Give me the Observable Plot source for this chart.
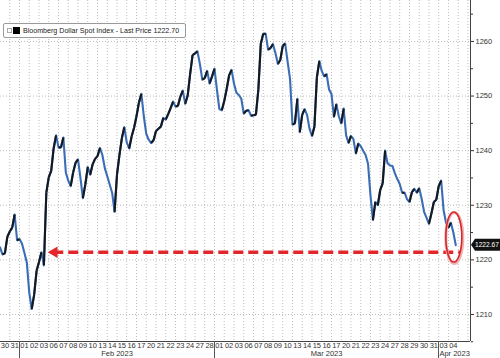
<!DOCTYPE html>
<html><head><meta charset="utf-8">
<script src="https://cdn.jsdelivr.net/npm/d3@7"></script>
<script src="https://cdn.jsdelivr.net/npm/@observablehq/plot@0.6"></script>
<style>
body{margin:0;background:#fff;}
#wrap{position:relative;width:500px;height:358px;overflow:hidden;background:#fff;}
.legend{position:absolute;left:3px;top:23px;height:15px;width:183px;border:1px solid #9a9a9a;border-radius:2px;background:#fff;box-sizing:border-box;display:flex;align-items:center;font-family:"Liberation Sans",Arial,sans-serif;font-size:7.1px;color:#222;white-space:nowrap;}
.legend .s1{flex:0 0 auto;display:inline-block;width:3px;height:3px;border:1px solid #aaa;margin-left:3px;}
.legend .s2{flex:0 0 auto;display:inline-block;width:7px;height:7px;background:#000;margin-left:1px;margin-right:3px;}
</style></head><body><div id="wrap"></div>
<script>
// ---- data ----
const seriesName = "Bloomberg Dollar Spot Index - Last Price 1222.70";
const lastPrice = 1222.67;
const dayLabels = ["30","31",
  "01","02","03","06","07","08","09","10","13","14","15","16","17","20","21","22","23","24","27","28",
  "01","02","03","06","07","08","09","10","13","14","15","16","17","20","21","22","23","24","27","28","29","30","31",
  "03","04"];
const monthLabels = ["Feb 2023","Mar 2023","Apr 2023"];
const monthStarts = [2, 22, 45];
const samplesPerDay = 4;
const values = [
 1222.3,1221.0,1221.2,1224.2,1225.2,1225.9,1228.3,1223.6,1223.8,1223.0,
 1221.3,1219.5,1214.0,1211.0,1213.6,1218.0,1219.6,1221.4,1219.0,1232.3,
 1235.1,1236.3,1240.4,1242.8,1240.6,1240.6,1242.4,1236.0,1234.5,1233.5,
 1236.0,1237.8,1238.4,1235.0,1231.3,1233.8,1237.0,1235.6,1237.5,1238.5,
 1239.0,1240.5,1239.2,1236.8,1235.3,1233.8,1232.3,1228.8,1235.6,1239.2,
 1242.3,1244.3,1241.5,1240.4,1242.6,1244.2,1246.3,1248.8,1250.4,1246.3,
 1243.1,1242.0,1241.4,1241.9,1243.6,1244.0,1244.4,1246.0,1245.7,1246.7,
 1247.8,1249.0,1248.1,1248.2,1249.9,1251.0,1248.6,1250.1,1254.0,1257.5,
 1257.8,1258.2,1255.9,1253.0,1253.3,1254.6,1252.3,1253.6,1255.0,1251.2,
 1247.6,1247.4,1249.1,1251.3,1253.8,1254.8,1252.3,1250.6,1250.2,1249.5,
 1246.8,1247.3,1247.4,1246.4,1246.5,1246.6,1251.2,1259.6,1261.4,1261.4,
 1258.5,1258.8,1259.5,1257.9,1255.9,1256.6,1259.2,1259.6,1256.3,1253.1,
 1244.8,1245.0,1249.5,1243.4,1246.6,1247.6,1246.5,1244.0,1242.7,1244.4,
 1253.4,1256.4,1254.6,1253.6,1254.0,1251.2,1250.4,1246.2,1248.5,1246.3,
 1245.0,1247.7,1242.8,1241.4,1242.7,1242.1,1239.5,1241.3,1240.8,1240.0,
 1239.2,1237.6,1231.8,1227.3,1230.6,1230.0,1232.8,1234.0,1240.0,1237.7,
 1237.3,1237.2,1235.9,1234.8,1233.9,1232.3,1232.3,1231.1,1230.6,1232.4,
 1233.0,1232.3,1233.1,1231.2,1228.8,1227.7,1226.6,1228.5,1230.6,1231.0,
 1233.5,1234.5,1229.1,1226.8,1225.9,1226.8,1225.0,1222.7
];
const yTicks = [1210,1220,1230,1240,1250,1260];
const yMinorTicks = [1205,1215,1225,1235,1245,1255,1265];
// annotation (data units): dashed arrow level and span, circled area
const arrowLevel = 1221.4;
const arrowTipDay = 4.95;
const arrowTailDay = 46.7;
const circleDay = 46.6;
const circleValue = 1224.1;

// ---- derived ----
const points = values.map((v, i) => ({t: i / samplesPerDay, v}));
const ups = [];
for (let i = 1; i < points.length; i++) {
  if (points[i].v >= points[i-1].v) ups.push({t1: points[i-1].t, v1: points[i-1].v, t2: points[i].t, v2: points[i].v});
}
const dayCenters = dayLabels.map((d, i) => ({t: i + 0.5, label: d}));
const monthData = monthLabels.map((m, i) => ({label: m, t: (monthStarts[i] + (i + 1 < monthStarts.length ? monthStarts[i+1] : 48.26)) / 2}));
const xDomain = [0.05, 48.26];
const yDomain = [1205.05, 1267.5];
const FONT = '"Liberation Sans", Arial, sans-serif';

function separators(index, scales, values, dim) {
  const g = d3.create("svg:g");
  for (const s of monthStarts) {
    const x = Math.round(scales.x(s)) + 0.5;
    g.append("line").attr("x1", x).attr("x2", x).attr("y1", dim.height - dim.marginBottom).attr("y2", dim.height)
      .attr("stroke", "#555").attr("stroke-width", 1);
  }
  return g.node();
}
function ellipseMark(index, scales) {
  const g = d3.create("svg:g");
  const cx = scales.x(circleDay), cy = scales.y(circleValue);
  g.append("ellipse").attr("cx", cx + 0.5).attr("cy", cy + 1).attr("rx", 8.5).attr("ry", 25.5)
    .attr("fill", "none").attr("stroke", "#f3b0b0").attr("stroke-width", 3);
  g.append("ellipse").attr("cx", cx).attr("cy", cy).attr("rx", 8).attr("ry", 25)
    .attr("fill", "none").attr("stroke", "#d42a2f").attr("stroke-width", 1.6);
  return g.node();
}
function lastTag(index, scales, values, dim) {
  const g = d3.create("svg:g");
  const y = scales.y(lastPrice);
  const x0 = dim.width - dim.marginRight + 1;
  g.append("path").attr("d", `M${x0},${y} L${x0+4},${y-6} L${dim.width},${y-6} L${dim.width},${y+6} L${x0+4},${y+6} Z`).attr("fill", "#111");
  g.append("text").attr("x", x0 + 4).attr("y", y).attr("dy", "0.35em").attr("fill", "#fff")
    .attr("text-anchor", "start").attr("font-size", 6.6).attr("font-family", FONT).text(lastPrice.toFixed(2));
  return g.node();
}

const chart = Plot.plot({
  width: 500, height: 358,
  marginLeft: 0, marginRight: 30, marginTop: 0, marginBottom: 17,
  x: {domain: xDomain, axis: null},
  y: {domain: yDomain, axis: null},
  style: {fontFamily: FONT, fontSize: "7.5px", color: "#333", background: "#fff", overflow: "visible"},
  marks: [
    Plot.ruleX(d3.range(1, 49), {stroke: "#bdbdbd", strokeDasharray: "1,2"}),
    Plot.ruleY(yTicks, {stroke: "#bdbdbd", strokeDasharray: "1,2"}),
    Plot.line(points, {x: "t", y: "v", stroke: "#3a6db5", strokeWidth: 2.1}),
    Plot.link(ups, {x1: "t1", y1: "v1", x2: "t2", y2: "v2", stroke: "#15191f", strokeWidth: 2.1}),
    Plot.link([{a: arrowTipDay, b: arrowTailDay, y: arrowLevel}], {x1: "a", x2: "b", y1: "y", y2: "y", stroke: "#e3262b", strokeWidth: 3.5, strokeDasharray: "10,5", dx: 5}),
    Plot.dot([{t: arrowTipDay, y: arrowLevel}], {x: "t", y: "y", symbol: "triangle", rotate: -90, r: 4.2, fill: "#e3262b", stroke: "none", dx: 6}),
    ellipseMark,
    Plot.ruleX([xDomain[1]], {stroke: "#444", strokeWidth: 1}),
    Plot.ruleY([yDomain[0]], {stroke: "#444", strokeWidth: 1}),
    Plot.axisY({anchor: "right", ticks: yTicks, tickSize: 3, tickPadding: 2, fontSize: 7.5, stroke: "#333", tickFormat: d => String(d)}),
    Plot.axisY({anchor: "right", ticks: yMinorTicks, tickSize: 2, tickFormat: () => "", stroke: "#333"}),
    Plot.text(dayCenters, {x: "t", text: "label", frameAnchor: "bottom", dy: 6, fontSize: 7.5, fill: "#333"}),
    Plot.text(monthData, {x: "t", text: "label", frameAnchor: "bottom", dy: 14, fontSize: 7.5, fill: "#333"}),
    separators,
    lastTag
  ]
});
const wrap = document.getElementById("wrap");
wrap.appendChild(chart);
const lg = document.createElement("div");
lg.className = "legend";
lg.innerHTML = '<span class="s1"></span><span class="s2"></span><span class="t"></span>';
lg.querySelector(".t").textContent = seriesName;
wrap.appendChild(lg);
</script></body></html>
